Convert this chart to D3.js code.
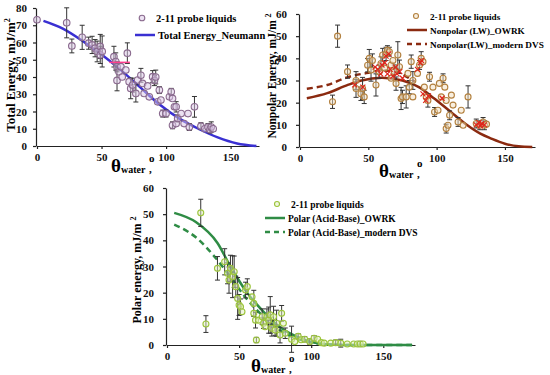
<!DOCTYPE html>
<html>
<head>
<meta charset="utf-8">
<script src="https://cdn.jsdelivr.net/npm/d3@7"></script>
<style>
  body { margin: 0; background: #fff; }
  svg text { font-family: "Liberation Serif", "DejaVu Serif", serif; font-weight: bold; }
</style>
</head>
<body>
<svg id="chart" width="550" height="375"></svg>
<script>
// ---- data: [theta_water, energy, error] ----
const totalPoints = [
  [0,73.2,0],[23,71.4,8.7],[27,58,4],[35,63,7],[40,59.6,3.5],[42.7,58.6,5],[45,56.7,5],
  [46.6,54.8,6],[49,57.7,7],[49,52.8,5],[50.5,54.8,9],[59.6,51.8,6],[61,49,5],[62,46,3],
  [63.5,43,0],[62,38,6],[70,53.8,6],[66,40,0],[65,46,0],[68.8,44,0],[71.4,37.3,0],
  [72.6,33.4,6],[74,35.3,4],[76.6,30.5,5],[78,38.2,0],[80.5,41,4],[81.8,36.3,0],[83,30.5,0],
  [85.7,34.8,0],[87,28.5,0],[89.6,40.2,3.5],[91,38,3],[92,40,4],[94.8,32.4,2],[93.5,25.6,0],
  [96,26.6,0],[97.4,18.8,2],[100,18.8,2],[102.6,28.5,0],[104,31.4,2],[105,27.6,0],[106.5,22.7,0],
  [105,12,2],[107.8,13,0],[109,16,2],[107.8,22.7,3],[111.7,18.8,0],[114,13,0],[117,18.8,0],
  [118,11,2],[122,22.7,6],[127,11.5,2],[130,10,0],[132.5,11,2],[134,9.5,2],[135,11,3],[136.5,10,0]
];
const totalCurve = [[5,72.5],[20,68],[35,61],[50,53],[65,44],[80,34],[95,24],[110,16],[125,10],[140,5],[155,1.5],[170,0]];
const totalMark = [[56,48.5],[72,48.5]];

const nonpolarPoints = [
  [23.8,20.4,3],[27.5,50,5],[34.8,34,3],[41,26.4,4],[41,30,4],[44.6,24,3],[45.8,26.4,5],
  [47,22.6,3],[49.5,36.9,3],[50.7,40,4],[52,34.7,5],[53,39,3],[55.6,28,5],[58,34,3],
  [59.3,37.7,3],[60.5,41.5,3],[62,35.6,0],[63,42,3],[64,43.7,2],[65.4,43,2],[66.7,37,0],
  [66.7,31,0],[68,39,0],[69,34,3],[70.3,28.6,3],[71.6,41.5,6],[72.8,36.2,3],[74,21.9,5],
  [75,22.6,3],[77.7,22.6,5],[79,33.2,0],[80,27,3],[81.4,38.5,3],[82.6,30,4],[82.6,22.6,0],
  [86,33.2,0],[87.5,37,2],[88.7,40,3],[90,38.5,0],[91,27,0],[92.4,22.6,0],[93.6,21,3],
  [94.8,31.7,2],[97.3,27,0],[98.5,15.8,2],[101,16.6,0],[102,28.7,0],[103.4,22.6,0],
  [104.7,31,2],[106,27,0],[107,8.3,2],[107,21,0],[108.3,9.8,0],[109.5,14.3,2],[110.8,23.4,0],
  [112,18.9,0],[115.7,11.3,2],[118,16.6,0],[119.4,9.8,0],[123,22.6,5],[129,10.6,2],
  [131.6,9.8,2],[134,11.3,2],[135,9.8,2],[136.5,10.3,0]
];
const nonpolarRed = [
  [40,28],[46,27],[55,36],[57,35],[59,33],[60,37],[62,38],[63,41],[64,33],[65,42],[66,35],
  [68,32],[70,36],[71,33],[73,34],[75,31],[86,35],[88,38],[89,39],[90,24],[92,21],[94,23],
  [104,22],[129,10],[131,11],[132,9.5],[133,10.5],[135,10]
];
const nonpolarOWRK = [[5,22],[20,24.3],[35,28],[45,30],[60,31.2],[75,30],[87,27],[98,22],[110,16],[122,10],[132,6],[140,3.8],[150,1.5],[160,0.3],[170,0]];
const nonpolarDVS = [[5,26.3],[20,28],[35,31.5],[50,33.5],[60,34.5],[70,34],[80,31],[84,29.5]];

const polarPoints = [
  [23.4,50.5,5.2],[27,8,3.2],[35,29.3,4.5],[40,31.8,5],[42,27.4,4],[43,24.8,5],[44,29.3,5],
  [45.5,26.1,8],[46.6,28,6],[47.7,22.3,4],[49,17.8,8],[50,15.3,4],[51,14.6,3],[52,12.7,0],
  [54.5,21,3],[55.7,22.3,3],[59,18.4,0],[60.2,15.9,5],[60.2,12.1,0],[61.4,9.5,3],[62,1.9,1],
  [63.6,9.5,0],[66,10.8,3],[67,8.3,2],[68,7,0],[69.3,10.8,3],[70.5,9.5,5],[71.6,11.5,7],
  [72.7,6.4,3],[73.9,10.8,4],[75,5.7,2],[76,8.3,5],[78.4,3.8,3],[79.5,12.1,3],[80.7,8.3,0],
  [82,4.5,2],[86.4,2.2,5],[88.6,1.3,0],[91,3.3,1],[93,2,0],[95.5,2.2,1],[99,1.3,1],[102,2.6,1],
  [104.5,2.2,0],[107,0.9,0],[109,0.7,0],[113.6,0.7,0],[117,0.9,1],[120.5,0.7,1.5],[125,0.4,0],
  [129.5,0.4,0],[132,0.4,0],[134,0.4,1],[136,0.4,0]
];
const polarOWRK = [[5,50.5],[20,47],[35,39],[44,30],[55,20.4],[67,12.7],[78,7],[90,3.2],[101,1],[115,0.2],[130,0],[170,0]];
const polarDVS = [[5,46],[9,45],[21,40.7],[32,34.4],[44,26],[55,17.8],[67,10.8],[78,5.7],[90,2.5],[101,0.9],[115,0.1],[130,0],[170,0]];

const xTicks = [0, 50, 100, 150];
const svg = d3.select('#chart');

function drawPanel(p) {
  let g = svg.append('g');
  let x = d3.scaleLinear().domain([0, 172]).range([p.x0, p.x1]);
  let y = d3.scaleLinear().domain([0, p.yMax]).range([p.y0, p.y1]);

  // axes
  let xa = g.append('g').attr('transform', `translate(0,${p.y0})`)
    .call(d3.axisBottom(x).tickValues(xTicks).tickSize(3).tickSizeOuter(0).tickPadding(4));
  let ya = g.append('g').attr('transform', `translate(${p.x0 - 1},0)`)
    .call(d3.axisLeft(y).ticks(p.yMax / 10).tickSize(3).tickSizeOuter(0).tickPadding(p.pad));
  [xa, ya].forEach(a => {
    a.selectAll('text').style('font-size', '11px').attr('fill', '#111');
    a.selectAll('line, path').attr('stroke', '#222').attr('stroke-width', 1.2);
  });

  // curves
  let line = d3.line().x(d => x(d[0])).y(d => y(d[1])).curve(d3.curveMonotoneX);
  p.curves.forEach(c => {
    g.append('path').datum(c.data)
      .attr('d', line)
      .attr('fill', 'none')
      .attr('stroke', p.lineColor)
      .attr('stroke-width', 2.5)
      .attr('stroke-dasharray', c.dash ? '6,4' : null);
  });

  // error bars
  let bars = p.points.filter(d => d[2] > 0);
  g.selectAll('.eb').data(bars).enter().append('path')
    .attr('d', d => {
      let cx = x(d[0]), t = y(d[1] + d[2]), b = y(d[1] - d[2]);
      return `M${cx},${t}V${b}M${cx - 2.5},${t}H${cx + 2.5}M${cx - 2.5},${b}H${cx + 2.5}`;
    })
    .attr('stroke', '#333').attr('stroke-width', 1).attr('fill', 'none');

  // points
  g.selectAll('.pt').data(p.points).enter().append('circle')
    .attr('cx', d => x(d[0]))
    .attr('cy', d => y(d[1]))
    .attr('r', p.r)
    .attr('fill', p.fill)
    .attr('fill-opacity', 0.5)
    .attr('stroke', p.stroke)
    .attr('stroke-width', 1.1);

  if (p.extra) p.extra(g, x, y);

  // y title
  g.append('text')
    .attr('transform', `translate(${p.ytX},${p.ytY}) rotate(-90)`)
    .attr('text-anchor', 'middle')
    .style('font-size', p.ytSize + 'px')
    .html(p.yTitle);

  // x title: theta_water , o
  let xt = g.append('text').attr('x', p.xtX).attr('y', p.xtY);
  xt.append('tspan').style('font-size', '19px').text('θ');
  xt.append('tspan').style('font-size', '10px').attr('dy', 1).text('water');
  xt.append('tspan').style('font-size', '11px').attr('dx', 1).text(' ,');
  g.append('text').attr('x', p.xtX + 38).attr('y', p.xtY - 10)
    .style('font-size', '11px').text('o');

  // legend
  let lg = g.append('g').style('font-size', p.lgSize + 'px');
  lg.append('circle').attr('cx', p.lgX).attr('cy', p.lgY).attr('r', p.r - 0.5)
    .attr('fill', p.fill).attr('fill-opacity', 0.5).attr('stroke', p.stroke).attr('stroke-width', 1.1);
  lg.append('text').attr('x', p.lgX + 14).attr('y', p.lgY + 3.5).text('2-11 probe liquids');
  p.names.forEach((n, i) => {
    let ly = p.lgY + p.lgGap * (i + 1);
    lg.append('line').attr('x1', p.lineX0).attr('x2', p.lineX0 + 20).attr('y1', ly).attr('y2', ly)
      .attr('stroke', p.lineColor).attr('stroke-width', 2.5)
      .attr('stroke-dasharray', i === 1 ? '5,4' : null);
    lg.append('text').attr('x', p.lineX0 + 23).attr('y', ly + 3.5).text(n);
  });
}

drawPanel({
  x0: 37, x1: 259, y0: 146, y1: 8, yMax: 80, pad: 6,
  points: totalPoints, r: 3.3, fill: '#d9c6e6', stroke: '#8a6a8e',
  lineColor: '#3a30d2',
  curves: [{ data: totalCurve }],
  extra: (g, x, y) => {
    g.append('line').attr('x1', x(totalMark[0][0])).attr('x2', x(totalMark[1][0]))
      .attr('y1', y(totalMark[0][1])).attr('y2', y(totalMark[1][1]))
      .attr('stroke', '#ff3f8f').attr('stroke-width', 1.5);
  },
  yTitle: 'Total Energy, mJ/m<tspan font-size="8" dy="-5">2</tspan>', ytX: 15, ytY: 75, ytSize: 13,
  xtX: 111, xtY: 172,
  lgX: 142, lgY: 18, lgGap: 17, lgSize: 10.5, lineX0: 135,
  names: ['Total Energy_Neumann']
});

drawPanel({
  x0: 300, x1: 535, y0: 147, y1: 14, yMax: 60, pad: 9,
  points: nonpolarPoints, r: 3, fill: '#f2dfc2', stroke: '#b3813f',
  lineColor: '#8b2a10',
  curves: [{ data: nonpolarOWRK }, { data: nonpolarDVS, dash: true }],
  extra: (g, x, y) => {
    g.selectAll('.rx').data(nonpolarRed).enter().append('path')
      .attr('d', d => {
        let cx = x(d[0]), cy = y(d[1]);
        return `M${cx - 2.5},${cy - 2.5}L${cx + 2.5},${cy + 2.5}M${cx - 2.5},${cy + 2.5}L${cx + 2.5},${cy - 2.5}`;
      })
      .attr('stroke', '#e0241c').attr('stroke-width', 1.2);
  },
  yTitle: 'Nonpolar Energy, mJ/m <tspan font-size="8" dy="-5">2</tspan>', ytX: 276, ytY: 76, ytSize: 11.5,
  xtX: 379, xtY: 177,
  lgX: 416, lgY: 16, lgGap: 14, lgSize: 9.2, lineX0: 407,
  names: ['Nonpolar (LW)_OWRK', 'Nonpolar(LW)_modern DVS']
});

drawPanel({
  x0: 167, x1: 415, y0: 345, y1: 188, yMax: 60, pad: 9,
  points: polarPoints, r: 3, fill: '#e2efbf', stroke: '#9cc43c',
  lineColor: '#2f8c45',
  curves: [{ data: polarOWRK }, { data: polarDVS, dash: true }],
  yTitle: 'Polar energy, mJ/m <tspan font-size="8" dy="-5">2</tspan>', ytX: 141, ytY: 270, ytSize: 12,
  xtX: 251, xtY: 372,
  lgX: 277, lgY: 204, lgGap: 14, lgSize: 9.5, lineX0: 265,
  names: ['Polar (Acid-Base)_OWRK', 'Polar (Acid-Base)_modern DVS']
});
</script>
</body>
</html>
